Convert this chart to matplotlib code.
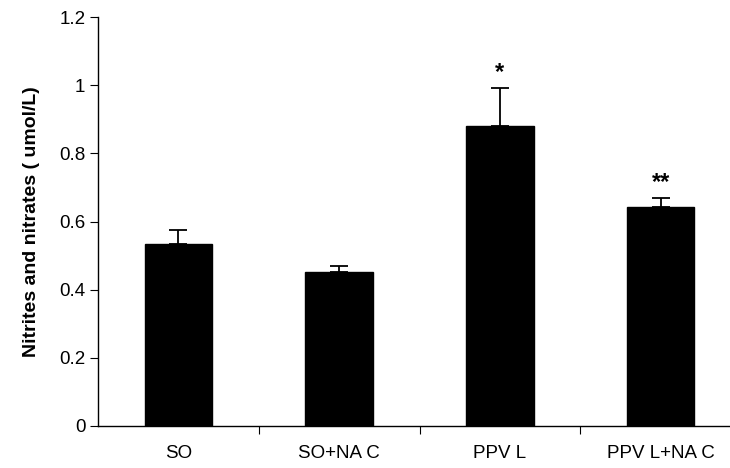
import numpy as np
import matplotlib.pyplot as plt

plt.rcParams['font.family'] = ['Liberation Sans', 'DejaVu Sans']

groups = ['SO', 'SO+NA C', 'PPV L', 'PPV L+NA C']
means = [0.534, 0.451, 0.882, 0.643]
errs = [0.040, 0.017, 0.110, 0.026]
marks = ['', '', '*', '**']

fig = plt.figure(figsize=(7.3, 4.68), dpi=100)
ax = fig.add_axes([98/730, (468-425.7)/468, 643/730, 408.4/468])

x = np.arange(len(groups))
ax.bar(x, means, width=0.42, color='black', edgecolor='black', zorder=2)
ax.errorbar(x, means, yerr=[np.zeros(len(errs)), errs], fmt='none',
            ecolor='black', elinewidth=1.3, capsize=6.5, capthick=1.3, zorder=1)

for xi, m, e, s in zip(x, means, errs, marks):
    if s:
        ax.text(xi, m + e + 0.045, s, ha='center', va='center', fontsize=17,
                fontweight='bold')

ax.set_xlim(-0.5, 3.5)
ax.set_ylim(0, 1.2)
ax.set_yticks([0, 0.2, 0.4, 0.6, 0.8, 1.0, 1.2])
ax.set_yticklabels(['0', '0.2', '0.4', '0.6', '0.8', '1', '1.2'])
ax.set_xticks([0.5, 1.5, 2.5])
ax.set_xticklabels([])
ax.set_xticks(x, minor=True)
ax.set_xticklabels(groups, minor=True)
ax.tick_params(axis='x', which='minor', length=0, pad=14, labelsize=13.5)
ax.tick_params(axis='x', which='major', length=6, direction='out')
ax.tick_params(axis='y', length=6, direction='out', labelsize=13.5, pad=3)

for sp in ['top', 'right']:
    ax.spines[sp].set_visible(False)
for sp in ['left', 'bottom']:
    ax.spines[sp].set_linewidth(1.0)

ax.set_ylabel('Nitrites and nitrates ( umol/L)', fontsize=14, fontweight='bold',
              labelpad=14)

fig.savefig('out.png', dpi=100)
